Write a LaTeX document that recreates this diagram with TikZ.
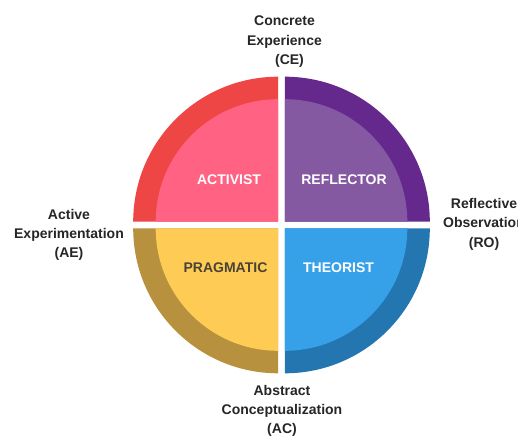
\documentclass[tikz,border=0pt]{standalone}
\usepackage{fontspec}
\setmainfont{Liberation Sans}
\begin{document}
\definecolor{actring}{HTML}{EE4545}
\definecolor{actfill}{HTML}{FF6282}
\definecolor{refring}{HTML}{65298E}
\definecolor{reffill}{HTML}{8558A2}
\definecolor{praring}{HTML}{B8913F}
\definecolor{prafill}{HTML}{FECC55}
\definecolor{theoring}{HTML}{2376AF}
\definecolor{theofill}{HTML}{36A1E8}
\definecolor{outtext}{HTML}{262626}
\definecolor{pratext}{HTML}{4A4236}
\begin{tikzpicture}[x=1pt,y=1pt,
  stylelabel/.style={inner sep=0pt,font=\fontsize{14}{17}\selectfont\bfseries},
  modelabel/.style={inner sep=0pt,anchor=north,align=center,text=outtext,
    font=\fontsize{14}{19.3}\selectfont\bfseries}]
  \clip (0,0) rectangle (518,436);
  \fill[white] (0,0) rectangle (518,436);
  % quarter discs: outer ring colour, then the lighter inner quarter
  \def\Ro{145}\def\Ri{122.5}
  % top left
  \fill[actring] (278.2,214.3) -- ++(-\Ro,0) arc (180:90:\Ro) -- cycle;
  \fill[actfill] (278.2,214.3) -- ++(-\Ri,0) arc (180:90:\Ri) -- cycle;
  % top right
  \fill[refring] (284.8,214.3) -- ++(0,\Ro) arc (90:0:\Ro) -- cycle;
  \fill[reffill] (284.8,214.3) -- ++(0,\Ri) arc (90:0:\Ri) -- cycle;
  % bottom left
  \fill[praring] (278.2,207.7) -- ++(-\Ro,0) arc (180:270:\Ro) -- cycle;
  \fill[prafill] (278.2,207.7) -- ++(-\Ri,0) arc (180:270:\Ri) -- cycle;
  % bottom right
  \fill[theoring] (284.8,207.7) -- ++(0,-\Ro) arc (270:360:\Ro) -- cycle;
  \fill[theofill] (284.8,207.7) -- ++(0,-\Ri) arc (270:360:\Ri) -- cycle;
  % learning styles
  \node[stylelabel,text=white] (activist) at (229,256.2) {ACTIVIST};
  \node[stylelabel,text=white] (reflector) at (344,256.2) {REFLECTOR};
  \node[stylelabel,text=pratext] (pragmatic) at (225.5,168) {PRAGMATIC};
  \node[stylelabel,text=white] (theorist) at (338.5,168) {THEORIST};
  % learning cycle stages
  \node[modelabel] (ce) at (284.5,420) {Concrete\\Experience\\\hspace*{10pt}(CE)};
  \node[modelabel] (ae) at (69,227) {Active\\Experimentation\\(AE)};
  \node[modelabel] (ro) at (484,237.7) {Reflective\\Observation\\(RO)};
  \node[modelabel] (ac) at (282,51) {Abstract\\Conceptualization\\(AC)};
\end{tikzpicture}
\end{document}
